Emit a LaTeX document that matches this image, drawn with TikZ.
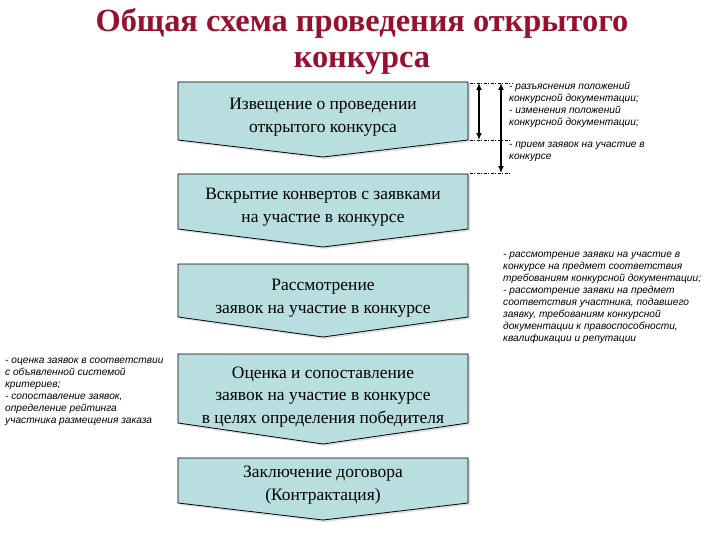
\documentclass[tikz,border=0pt]{standalone}
\usepackage{fontspec}
\setmainfont{Liberation Serif}
\newfontfamily\boxfont{Liberation Serif}
\newfontfamily\sidefont{Liberation Sans}
\usetikzlibrary{arrows.meta,shadows}
\definecolor{boxfill}{RGB}{184,222,224}
\definecolor{titlered}{RGB}{150,16,48}
\tikzset{
  stagebox/.style={draw=black, line width=0.8pt, fill=boxfill,
    drop shadow={shadow xshift=2bp, shadow yshift=-2bp, opacity=0.25, fill=gray}},
  stagetext/.style={align=center, font=\boxfont\fontsize{17.5}{22.5}\selectfont, inner sep=0pt},
  sidenote/.style={align=left, font=\sidefont\itshape\fontsize{10.2}{12}\selectfont, inner sep=0pt, anchor=north west},
  guide/.style={line width=0.6pt, dash pattern=on 3pt off 1.5pt on 1pt off 1.5pt},
  spanarrow/.style={{Latex[length=7pt,width=6pt]}-{Latex[length=7pt,width=6pt]}, line width=1.6pt}
}
\begin{document}
\begin{tikzpicture}[x=1bp,y=-1bp]
\useasboundingbox (0,0) rectangle (720,540);
% title
\node[titlered, font=\boxfont\bfseries\fontsize{32.5}{36}\selectfont, align=center, inner sep=0pt] (title) at (362,41)
  {Общая схема проведения открытого\\конкурса};
% boxes
\path[stagebox] (178,82) -- (468,82) -- (468,140) -- (323,157) -- (178,140) -- cycle;
\node[stagetext] (b1) at (323,117) {Извещение о проведении\\открытого конкурса};
\path[stagebox] (178,174) -- (468,174) -- (468,229) -- (323,247) -- (178,229) -- cycle;
\node[stagetext] (b2) at (323,207) {Вскрытие конвертов с заявками\\на участие в конкурсе};
\path[stagebox] (178,264) -- (468,264) -- (468,317) -- (323,337) -- (178,317) -- cycle;
\node[stagetext] (b3) at (323,298) {Рассмотрение\\заявок на участие в конкурсе};
\path[stagebox] (178,354) -- (468,354) -- (468,423) -- (323,444) -- (178,423) -- cycle;
\node[stagetext] (b4) at (323,397) {Оценка и сопоставление\\заявок на участие в конкурсе\\в целях определения победителя};
\path[stagebox] (178,458) -- (468,458) -- (468,503) -- (323,520) -- (178,503) -- cycle;
\node[stagetext] (b5) at (323,485) {Заключение договора\\(Контрактация)};
% guides and span arrows
\coordinate (g1a) at (470,83); \coordinate (g1b) at (512,83);
\coordinate (g2a) at (470,140); \coordinate (g2b) at (510,140);
\coordinate (g3a) at (470,173); \coordinate (g3b) at (510,173);
\draw[guide] (g1a) -- (g1b);
\draw[guide] (g2a) -- (g2b);
\draw[guide] (g3a) -- (g3b);
\coordinate (a1t) at (479,83); \coordinate (a1b) at (479,140);
\coordinate (a2t) at (501,83); \coordinate (a2b) at (501,173);
\draw[spanarrow] (a1t) -- (a1b);
\draw[spanarrow] (a2t) -- (a2b);
% side notes
\node[sidenote] (n1) at (509,82) {- разъяснения положений\\конкурсной документации;\\- изменения положений\\конкурсной документации;};
\node[sidenote] (n2) at (509,142) {- прием заявок на участие в\\конкурсе};
\node[sidenote] (n3) at (503,252) {- рассмотрение заявки на участие в\\конкурсе на предмет соответствия\\требованиям конкурсной документации;\\- рассмотрение заявки на предмет\\соответствия участника, подавшего\\заявку, требованиям конкурсной\\документации к правоспособности,\\квалификации и репутации};
\node[sidenote] (n4) at (5,358) {- оценка заявок в соответствии\\с объявленной системой\\критериев;\\- сопоставление заявок,\\определение рейтинга\\участника размещения заказа};
\end{tikzpicture}
\end{document}
